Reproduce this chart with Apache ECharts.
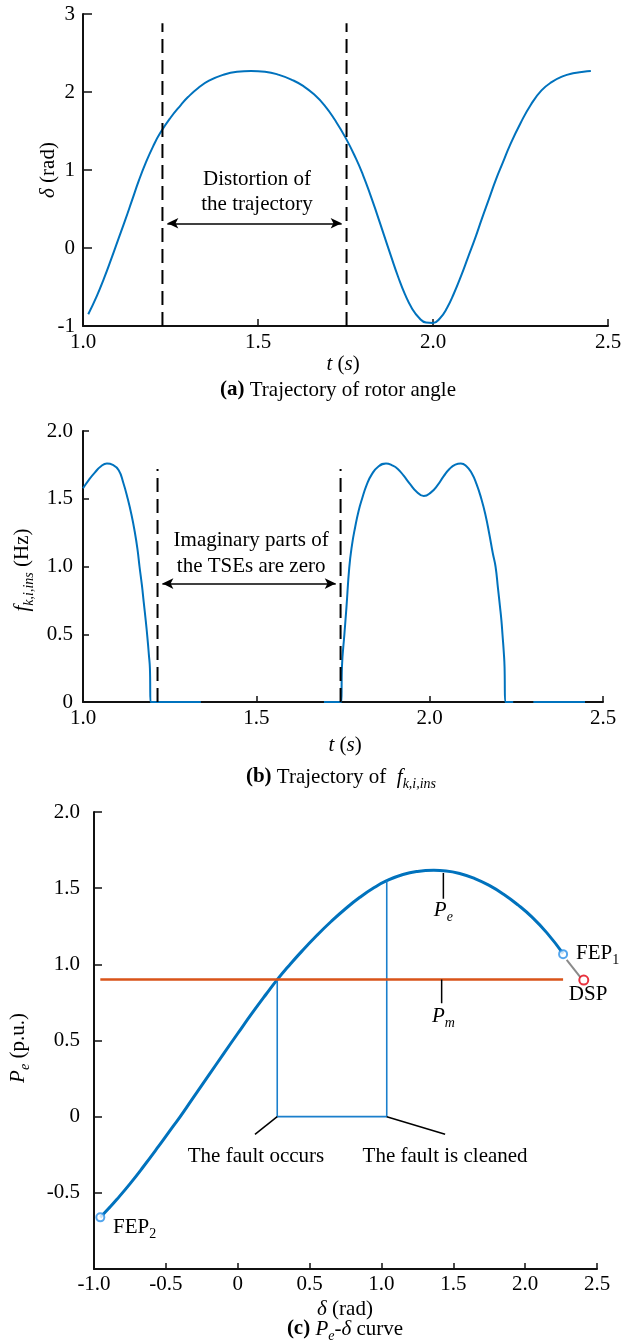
<!DOCTYPE html>
<html>
<head>
<meta charset="utf-8">
<script src="https://cdn.jsdelivr.net/npm/echarts@6/dist/echarts.min.js"></script>
<style>
html, body { margin: 0; padding: 0; background: #fff; }
#main { width: 624px; height: 1342px; }
</style>
</head>
<body>
<div id="main"></div>
<script>
var FONT = '"Liberation Serif", "Times New Roman", serif';
var BLUE = '#0072bd';
var ORANGE = '#d95319';

// (a) rotor angle trajectory
var rotorT = [1.015, 1.04, 1.06, 1.08, 1.10, 1.12, 1.14, 1.16, 1.18, 1.20, 1.22, 1.25, 1.28, 1.30, 1.33,
	1.36, 1.40, 1.44, 1.48, 1.52, 1.56, 1.60, 1.63, 1.66, 1.69, 1.72, 1.75, 1.78, 1.80, 1.82,
	1.84, 1.86, 1.88, 1.90, 1.92, 1.94, 1.96, 1.98, 2.00, 2.02, 2.04, 2.06, 2.08, 2.10, 2.12,
	2.14, 2.16, 2.18, 2.20, 2.22, 2.25, 2.28, 2.31, 2.34, 2.37, 2.40, 2.43, 2.451];
var rotorDelta = [-0.85, -0.61, -0.39, -0.15, 0.1, 0.35, 0.61, 0.87, 1.10, 1.30, 1.47, 1.67, 1.835, 1.935, 2.055,
	2.145, 2.22, 2.26, 2.27, 2.26, 2.22, 2.15, 2.075, 1.97, 1.83, 1.64, 1.415, 1.145, 0.935, 0.695,
	0.435, 0.165, -0.105, -0.365, -0.595, -0.775, -0.895, -0.955, -0.96, -0.9, -0.77, -0.58, -0.36, -0.12, 0.12,
	0.38, 0.63, 0.88, 1.1, 1.32, 1.6, 1.84, 2.02, 2.13, 2.2, 2.24, 2.26, 2.27];
var distortionT = [1.227, 1.753];

// (b) instantaneous frequency, null = hidden by axis
var freqT = [1.0, 1.017, 1.034, 1.052, 1.069, 1.086, 1.103, 1.116, 1.129, 1.14, 1.149, 1.157, 1.163, 1.17,
	1.175, 1.181, 1.186, 1.19, 1.193, 1.195, 1.34, 1.341, 1.695, 1.745, 1.747, 1.754, 1.76, 1.768,
	1.776, 1.785, 1.795, 1.805, 1.818, 1.833, 1.853, 1.874, 1.893, 1.908, 1.925, 1.943, 1.963, 1.983,
	2.003, 2.023, 2.04, 2.057, 2.074, 2.09, 2.106, 2.121, 2.135, 2.149, 2.161, 2.172, 2.182, 2.19,
	2.197, 2.203, 2.207, 2.21, 2.214, 2.216, 2.218, 2.241, 2.242, 2.299, 2.448];
var freqF = [1.578, 1.64, 1.693, 1.74, 1.76, 1.75, 1.71, 1.62, 1.50, 1.38, 1.26, 1.13, 1.0, 0.86,
	0.74, 0.6, 0.47, 0.35, 0.25, 0, 0, null, 0, 0, 0.26, 0.5, 0.7, 0.99,
	1.16, 1.29, 1.41, 1.5, 1.6, 1.68, 1.74, 1.76, 1.745, 1.72, 1.67, 1.61, 1.55, 1.52,
	1.545, 1.6, 1.665, 1.72, 1.752, 1.76, 1.74, 1.69, 1.61, 1.5, 1.38, 1.24, 1.1, 1.0,
	0.84, 0.7, 0.6, 0.5, 0.36, 0.26, 0, 0, null, 0, 0];
var zeroT = [1.215, 1.743];

// (c) Pe-delta curve
var peDelta = [-0.956, -0.90, -0.842, -0.75, -0.657, -0.55, -0.45, -0.40, -0.32, -0.2, -0.1, 0.0,
	0.1, 0.2, 0.275, 0.35, 0.45, 0.55, 0.65, 0.75, 0.85, 0.95, 1.037, 1.15, 1.25, 1.364,
	1.45, 1.55, 1.65, 1.75, 1.85, 1.95, 2.05, 2.15, 2.264];
var peValue = [-0.661, -0.605, -0.544, -0.441, -0.329, -0.194, -0.064, 0.0, 0.11, 0.274, 0.411, 0.546,
	0.679, 0.807, 0.90, 0.984, 1.09, 1.189, 1.281, 1.365, 1.44, 1.504, 1.549, 1.59, 1.61, 1.617,
	1.613, 1.595, 1.563, 1.518, 1.46, 1.39, 1.308, 1.208, 1.071];
var pmLevel = 0.9;
var faultDelta = [0.275, 1.037];
var faultPe = [0.9, 1.549];
var fep1 = [2.264, 1.067];
var fep2 = [-0.956, -0.661];
var dsp = [2.408, 0.897];

function pairs(xs, ys) {
	return xs.map(function(x, i) {
		return [x, ys[i]];
	});
}

function fmt1(v) {
	return v == 0 ? '0' : v.toFixed(1);
}

function makeAxis(gi, min, max, interval, formatter, tickLen, margin) {
	return {
		type: 'value',
		gridIndex: gi,
		min: min,
		max: max,
		interval: interval,
		axisLine: { show: true, onZero: false, lineStyle: { color: '#111', width: 2 } },
		axisTick: { show: true, inside: true, length: tickLen, lineStyle: { color: '#111', width: 1.5 } },
		axisLabel: { color: '#000', fontFamily: FONT, fontSize: 21, margin: margin, formatter: formatter },
		splitLine: { show: false }
	};
}

function blackLine(gi, data, width, dash) {
	return {
		type: 'line',
		xAxisIndex: gi,
		yAxisIndex: gi,
		data: data,
		showSymbol: false,
		silent: true,
		lineStyle: { color: '#000', width: width, type: dash || 'solid' }
	};
}

function arrow(gi, x1, x2, y) {
	return {
		type: 'line',
		xAxisIndex: gi,
		yAxisIndex: gi,
		data: [],
		silent: true,
		markLine: {
			silent: true,
			symbol: ['arrow', 'arrow'],
			symbolSize: [8, 11],
			label: { show: false },
			lineStyle: { color: '#000', width: 1.5, type: 'solid' },
			data: [[{ coord: [x1, y] }, { coord: [x2, y] }]]
		}
	};
}

var series = [];
series.push({
	type: 'line', xAxisIndex: 0, yAxisIndex: 0,
	data: pairs(rotorT, rotorDelta),
	showSymbol: false, smooth: 0.5,
	lineStyle: { color: BLUE, width: 2 }
});
distortionT.forEach(function(t) {
	series.push(blackLine(0, [[t, -1], [t, 2.88]], 2, [14, 7]));
});
series.push(arrow(0, distortionT[0] + 0.014, distortionT[1] - 0.014, 0.317));

series.push({
	type: 'line', xAxisIndex: 1, yAxisIndex: 1,
	data: pairs(freqT, freqF),
	showSymbol: false, smooth: 0.5, connectNulls: false,
	lineStyle: { color: BLUE, width: 2 }
});
zeroT.forEach(function(t) {
	series.push(blackLine(1, [[t, 0], [t, 1.72]], 2, [14, 7]));
});
series.push(arrow(1, zeroT[0] + 0.014, zeroT[1] - 0.014, 0.874));

series.push({
	type: 'line', xAxisIndex: 2, yAxisIndex: 2,
	data: pairs(peDelta, peValue),
	showSymbol: false, smooth: 0.5,
	lineStyle: { color: BLUE, width: 3 }
});
series.push({
	type: 'line', xAxisIndex: 2, yAxisIndex: 2,
	data: [[faultDelta[0], faultPe[0]], [faultDelta[0], 0], [faultDelta[1], 0], [faultDelta[1], faultPe[1]]],
	showSymbol: false, silent: true,
	lineStyle: { color: '#1a7fcc', width: 1.6 }
});
series.push({
	type: 'line', xAxisIndex: 2, yAxisIndex: 2,
	data: [[fep2[0], pmLevel], [fep1[0], pmLevel]],
	showSymbol: false, silent: true,
	lineStyle: { color: ORANGE, width: 2.5 }
});
series.push(blackLine(2, [[1.431, 1.60], [1.431, 1.43]], 1.5));
series.push(blackLine(2, [[1.419, pmLevel], [1.419, 0.745]], 1.5));
series.push(blackLine(2, [[faultDelta[0], 0], [0.12, -0.116]], 1.5));
series.push(blackLine(2, [[faultDelta[1], 0], [1.443, -0.116]], 1.5));
series.push({
	type: 'line', xAxisIndex: 2, yAxisIndex: 2,
	data: [[2.289, 1.029], [2.385, 0.915]],
	showSymbol: false, silent: true,
	lineStyle: { color: '#8a8a8a', width: 2 }
});
series.push({
	type: 'scatter', xAxisIndex: 2, yAxisIndex: 2,
	data: [fep1, fep2], symbol: 'emptyCircle', symbolSize: 8,
	itemStyle: { color: '#2a90e8', borderWidth: 2 }, z: 5
});
series.push({
	type: 'scatter', xAxisIndex: 2, yAxisIndex: 2,
	data: [dsp], symbol: 'emptyCircle', symbolSize: 9,
	itemStyle: { color: '#e3000f', borderWidth: 2 }, z: 5
});

var option = {
	animation: false,
	backgroundColor: '#fff',
	grid: [
		{ left: 83, top: 14, width: 525, height: 312, containLabel: false, outerBoundsMode: 'none' },
		{ left: 83, top: 431, width: 520, height: 271, containLabel: false, outerBoundsMode: 'none' },
		{ left: 94, top: 812, width: 503, height: 457, containLabel: false, outerBoundsMode: 'none' }
	],
	xAxis: [
		makeAxis(0, 1, 2.5, 0.5, function(v) { return v.toFixed(1); }, 7, 6),
		makeAxis(1, 1, 2.5, 0.5, function(v) { return v.toFixed(1); }, 6, 6),
		makeAxis(2, -1, 2.5, 0.5, fmt1, 6, 5)
	],
	yAxis: [
		makeAxis(0, -1, 3, 1, function(v) { return v.toFixed(0); }, 9, 8),
		makeAxis(1, 0, 2, 0.5, fmt1, 6, 10),
		makeAxis(2, -1, 2, 0.5, function(v) { return v == -1 ? '' : fmt1(v); }, 8, 14)
	],
	series: series
};

var chart = echarts.init(document.getElementById('main'));
chart.setOption(option);

var RICH = {
	r: { fontSize: 21, fontFamily: FONT, fill: '#000', lineHeight: 28, verticalAlign: 'middle' },
	ri: { fontSize: 21, fontFamily: FONT, fontStyle: 'italic', fill: '#000', lineHeight: 28, verticalAlign: 'middle' },
	b: { fontSize: 21, fontFamily: FONT, fontWeight: 'bold', fill: '#000', lineHeight: 28, verticalAlign: 'middle' },
	s: { fontSize: 14, fontFamily: FONT, fill: '#000', lineHeight: 14, verticalAlign: 'bottom' },
	si: { fontSize: 14, fontFamily: FONT, fontStyle: 'italic', fill: '#000', lineHeight: 14, verticalAlign: 'bottom' }
};

function txt(x, y, text, align, rotation, lineHeight) {
	return {
		type: 'text',
		x: x,
		y: y,
		rotation: rotation || 0,
		silent: true,
		style: {
			text: text,
			fill: '#000',
			font: '21px ' + FONT,
			lineHeight: lineHeight || 28,
			align: align || 'center',
			textAlign: align || 'center',
			verticalAlign: 'middle',
			textVerticalAlign: 'middle',
			rich: RICH
		}
	};
}

function at(gi, x, y, text, align, lineHeight) {
	var p = chart.convertToPixel({ gridIndex: gi }, [x, y]);
	return txt(p[0], p[1], text, align, 0, lineHeight);
}

var graphics = [
	txt(48, 170, '{ri|δ}{r| (rad)}', 'center', Math.PI / 2),
	txt(343, 364, '{ri|t}{r| (}{ri|s}{r|)}'),
	txt(338, 390, '{b|(a)}{r| Trajectory of rotor angle}'),
	at(0, 1.497, 0.712, 'Distortion of\nthe trajectory', 'center', 25),

	txt(22, 570, '{ri|f}{si|k,i,ins}{r| (Hz)}', 'center', Math.PI / 2),
	txt(345, 745, '{ri|t}{r| (}{ri|s}{r|)}'),
	txt(341, 777, '{b|(b)}{r| Trajectory of  }{ri|f}{si|k,i,ins}'),
	at(1, 1.485, 1.097, 'Imaginary parts of\nthe TSEs are zero', 'center', 26),

	txt(18, 1048, '{ri|P}{si|e}{r| (p.u.)}', 'center', Math.PI / 2),
	txt(345, 1309, '{ri|δ}{r| (rad)}'),
	txt(345, 1329, '{b|(c)}{r| }{ri|P}{si|e}{r|-}{ri|δ}{r| curve}'),
	at(2, 1.431, 1.353, '{ri|P}{si|e}'),
	at(2, 1.431, 0.66, '{ri|P}{si|m}'),
	at(2, 2.354, 1.073, '{r|FEP}{s|1}', 'left'),
	at(2, 2.438, 0.80, 'DSP'),
	at(2, -0.868, -0.725, '{r|FEP}{s|2}', 'left'),
	at(2, 0.127, -0.26, 'The fault occurs'),
	at(2, 1.443, -0.26, 'The fault is cleaned')
];

chart.setOption({ graphic: graphics });
</script>
</body>
</html>
